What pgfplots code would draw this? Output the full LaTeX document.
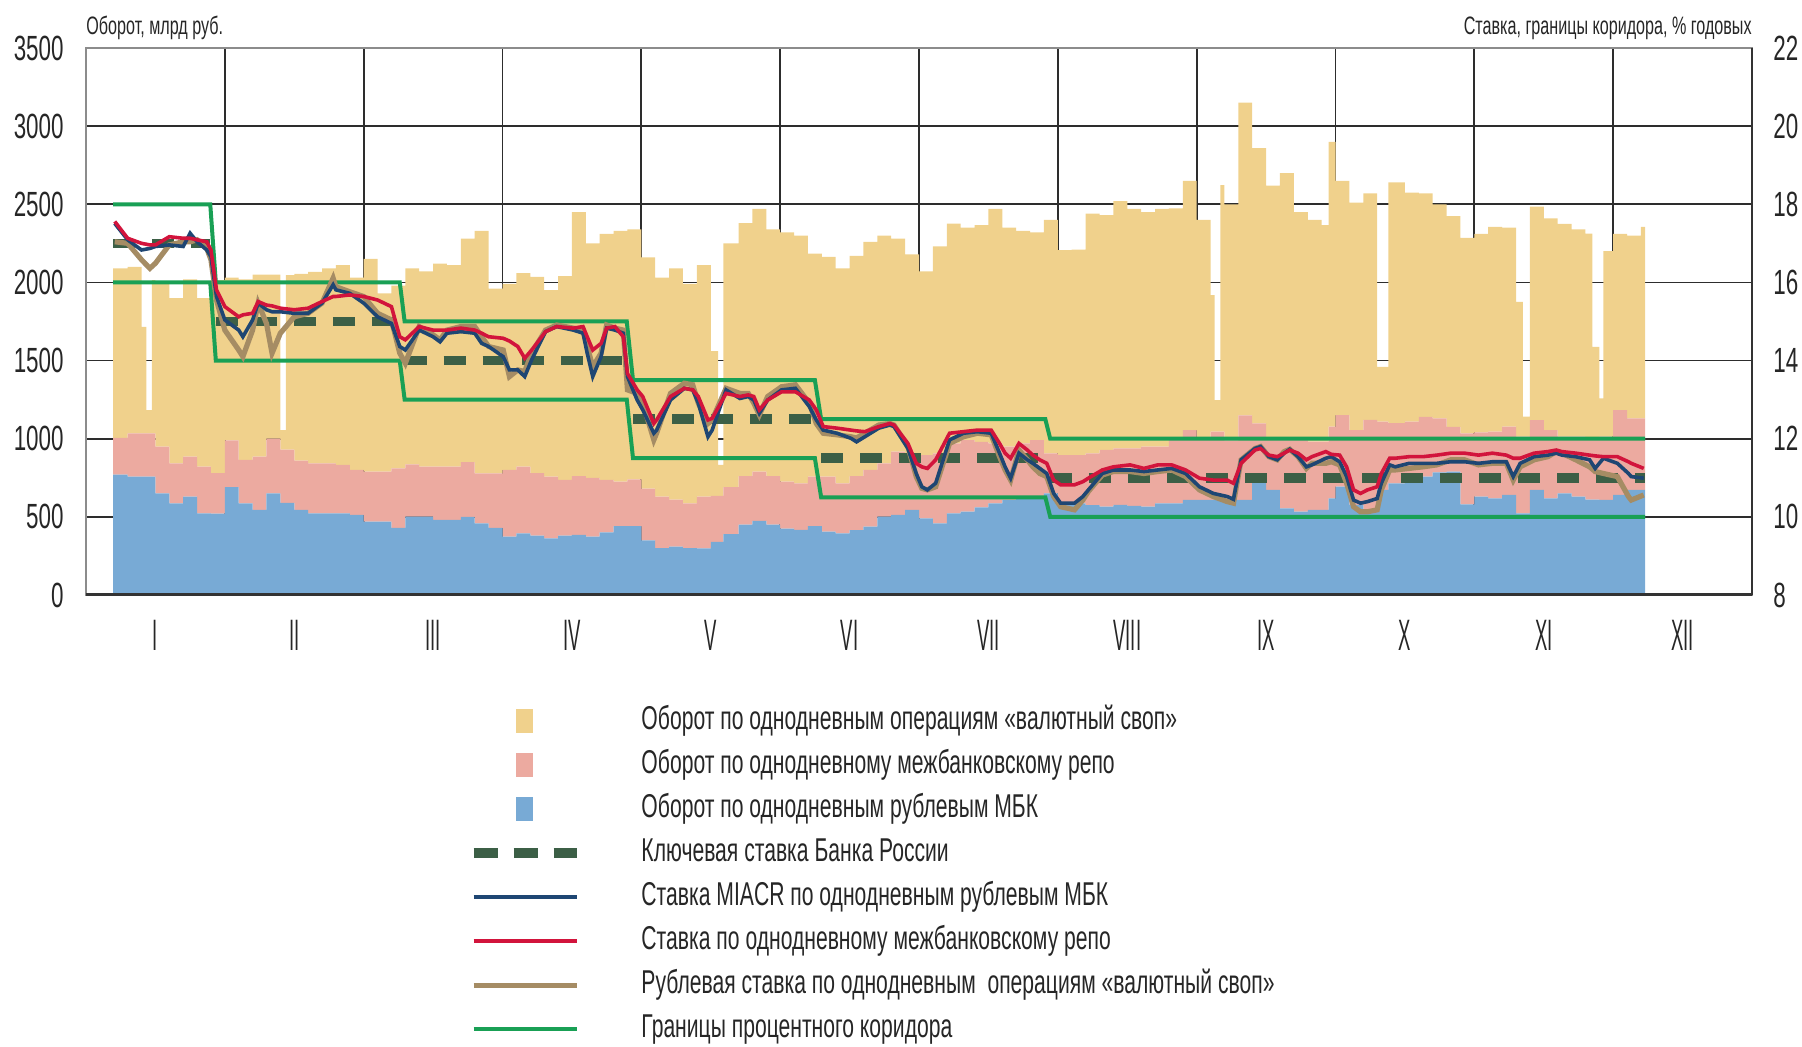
\documentclass[border=0pt]{standalone}
\usepackage{fontspec}
\setmainfont{Liberation Sans}[FakeStretch=0.64]
\newfontfamily\romfont{Liberation Sans}[FakeStretch=0.42]
\usepackage{pgfplots}
\pgfplotsset{compat=1.18}
\usepackage{pgfplotstable}

\definecolor{cswap}{RGB}{240,209,140}
\definecolor{crepo}{RGB}{236,170,160}
\definecolor{cmbk}{RGB}{120,170,213}
\definecolor{ckey}{RGB}{60,95,70}
\definecolor{cmiacr}{RGB}{30,70,115}
\definecolor{crrepo}{RGB}{210,20,60}
\definecolor{crswap}{RGB}{165,140,100}
\definecolor{ccorr}{RGB}{25,160,85}
\definecolor{cgrid}{RGB}{45,45,45}

% daily-ish turnover, bn rub (stacked: MBK, repo, FX swap)
\pgfplotstableread{
x mbk repo swap
0.195 770 235 1085
0.3 757 277 1066
0.4 757 277 682
0.435 757 277 149
0.475 757 277 981
0.5 650 300 1050
0.6 586 256 1058
0.7 629 256 1135
0.8 522 299 1079
0.9 520 260 1235
1.0 690 300 1040
1.1 586 278 1156
1.2 544 341 1165
1.3 650 350 1050
1.4 590 340 125
1.44 590 340 1117
1.5 545 315 1195
1.6 522 320 1226
1.7 522 320 1248
1.8 522 310 1278
1.9 512 288 1230
2.0 469 320 1361
2.1 469 320 1141
2.2 430 380 1170
2.3 501 334 1255
2.4 501 320 1249
2.5 480 341 1299
2.6 480 341 1289
2.7 500 350 1430
2.8 458 320 1552
2.9 430 348 1182
3.0 373 427 1190
3.1 394 427 1239
3.2 380 400 1255
3.3 362 395 1193
3.4 380 356 1304
3.5 385 375 1690
3.6 373 377 1500
3.7 400 336 1574
3.8 440 285 1605
3.9 440 300 1600
4.0 350 330 1480
4.1 300 329 1401
4.2 309 301 1480
4.3 300 286 1404
4.4 299 330 1481
4.5 340 295 925
4.553 340 295 197
4.59 390 300 1560
4.7 450 310 1620
4.8 475 315 1680
4.9 450 310 1580
5.0 425 300 1595
5.1 416 298 1586
5.2 440 317 1428
5.3 405 352 1407
5.4 394 320 1376
5.5 415 345 1410
5.6 437 363 1460
5.7 501 341 1458
5.8 512 405 1363
5.9 544 341 1295
6.0 490 405 1175
6.1 458 448 1324
6.2 522 448 1407
6.3 533 458 1359
6.4 560 420 1387
6.5 586 384 1500
6.6 608 341 1401
6.7 615 355 1360
6.8 618 373 1329
6.9 650 256 1494
7.0 586 309 1312
7.1 586 309 1315
7.2 575 331 1534
7.3 565 363 1503
7.4 576 362 1582
7.5 570 368 1532
7.6 565 384 1501
7.7 586 363 1521
7.8 586 405 1482
7.9 608 447 1595
8.0 608 383 1409
8.1 608 437 874
8.13 608 437 202
8.17 608 437 1578
8.2 608 382 1510
8.3 608 542 2000
8.4 736 362 1762
8.5 672 338 1610
8.6 554 446 1700
8.7 533 458 1459
8.8 544 437 1419
8.9 544 437 1386
8.95 618 459 1823
9.0 693 458 1499
9.1 576 479 1455
9.2 544 576 1450
9.3 672 438 350
9.38 714 386 1540
9.5 736 373 1466
9.6 757 383 1430
9.7 785 345 1370
9.8 789 286 1350
9.9 580 454 1251
10.0 629 411 1270
10.1 618 427 1311
10.2 640 437 1273
10.3 522 491 863
10.35 522 491 128
10.4 672 447 1366
10.5 618 437 1355
10.6 650 363 1362
10.7 629 384 1327
10.8 610 400 1303
10.85 610 400 578
10.9 608 405 245
10.93 608 405 1187
11.0 640 543 1127
11.1 672 458 1170
11.2 672 458 1226
11.23 672 458 1226
}\bars

% rates, % p.a.
\pgfplotstableread{
x miacr repo swap
0.207 17.51 17.56 17.04
0.30 17.09 17.13 17.00
0.40 16.83 17.00 16.58
0.46 16.87 16.96 16.36
0.50 16.92 16.96 16.49
0.60 16.96 17.17 16.96
0.70 16.92 17.13 17.04
0.75 17.26 17.13 17.04
0.80 17.04 17.09 17.09
0.87 16.83 17.04 16.87
0.90 16.66 16.83 16.58
0.94 15.64 15.81 15.55
1.00 15.04 15.38 14.78
1.10 14.78 15.12 14.27
1.13 14.61 15.17 14.10
1.20 15.04 15.21 14.78
1.24 15.47 15.51 15.47
1.30 15.30 15.42 14.95
1.34 15.25 15.40 14.19
1.40 15.25 15.34 14.70
1.50 15.21 15.30 15.12
1.60 15.21 15.34 15.21
1.70 15.47 15.51 15.47
1.78 15.94 15.64 16.11
1.80 15.81 15.64 15.89
1.90 15.72 15.68 15.76
2.00 15.47 15.64 15.64
2.10 15.12 15.55 15.21
2.20 14.95 15.38 15.04
2.26 14.36 14.61 14.19
2.30 14.27 14.53 13.93
2.40 14.78 14.87 14.87
2.50 14.61 14.78 14.66
2.55 14.48 14.78 14.53
2.60 14.70 14.78 14.78
2.70 14.74 14.83 14.87
2.80 14.70 14.78 14.87
2.85 14.44 14.70 14.61
2.90 14.36 14.61 14.36
3.005 14.10 14.57 14.27
3.05 13.76 14.50 13.59
3.11 13.76 14.36 13.76
3.16 13.59 14.06 13.72
3.21 14.02 14.27 14.19
3.31 14.74 14.74 14.78
3.39 14.87 14.87 14.91
3.51 14.78 14.83 14.83
3.58 14.70 14.87 14.78
3.61 14.19 14.61 14.36
3.65 13.59 14.27 13.84
3.71 14.10 14.44 14.19
3.75 14.83 14.83 14.91
3.81 14.78 14.87 14.83
3.87 14.70 14.61 14.78
3.90 13.59 13.67 13.25
3.97 12.99 13.25 13.16
4.01 12.74 13.08 12.91
4.09 12.14 12.39 11.97
4.11 12.22 12.48 12.14
4.21 12.99 13.08 13.16
4.31 13.29 13.29 13.42
4.37 13.25 13.25 13.38
4.41 12.91 13.08 12.91
4.48 12.05 12.48 12.39
4.51 12.22 12.52 12.48
4.61 13.25 13.16 13.29
4.71 13.03 13.08 13.16
4.77 13.08 13.12 13.16
4.81 12.99 13.08 12.91
4.85 12.65 12.74 12.61
4.91 12.99 12.99 13.08
5.01 13.25 13.20 13.33
5.11 13.29 13.20 13.38
5.21 12.82 12.99 12.91
5.26 12.48 12.74 12.39
5.31 12.22 12.31 12.14
5.41 12.14 12.27 12.10
5.51 12.01 12.22 12.05
5.55 11.92 12.20 12.02
5.61 12.05 12.18 12.14
5.71 12.27 12.31 12.35
5.79 12.35 12.39 12.39
5.82 12.31 12.35 12.35
5.92 11.75 11.88 11.80
5.98 11.11 11.37 11.03
6.02 10.77 11.28 10.73
6.06 10.69 11.24 10.69
6.12 10.86 11.46 10.77
6.22 11.97 12.14 11.88
6.32 12.14 12.18 12.05
6.42 12.18 12.22 12.14
6.52 12.14 12.22 12.10
6.58 11.63 11.88 11.54
6.62 11.28 11.63 11.20
6.66 10.99 11.50 10.94
6.72 11.63 11.88 11.71
6.78 11.46 11.71 11.46
6.82 11.37 11.58 11.28
6.87 11.24 11.46 11.11
6.92 11.11 11.37 11.03
6.97 10.60 10.94 10.52
7.02 10.35 10.82 10.26
7.12 10.35 10.82 10.18
7.18 10.52 10.90 10.43
7.22 10.69 10.99 10.65
7.32 11.11 11.20 11.07
7.40 11.20 11.28 11.16
7.52 11.20 11.33 11.16
7.62 11.16 11.24 11.11
7.72 11.20 11.33 11.16
7.82 11.24 11.33 11.20
7.92 11.11 11.20 11.03
8.02 10.77 10.99 10.69
8.12 10.60 10.94 10.52
8.22 10.52 10.94 10.39
8.265 10.45 10.86 10.35
8.32 11.46 11.37 11.46
8.42 11.75 11.71 11.75
8.46 11.80 11.75 11.80
8.52 11.54 11.58 11.54
8.58 11.46 11.54 11.46
8.63 11.63 11.63 11.67
8.67 11.73 11.71 11.73
8.73 11.54 11.63 11.54
8.79 11.28 11.46 11.24
8.83 11.33 11.54 11.37
8.93 11.50 11.67 11.37
8.97 11.54 11.60 11.41
9.03 11.41 11.58 11.33
9.08 11.03 11.28 10.86
9.13 10.43 10.69 10.26
9.18 10.35 10.60 10.13
9.23 10.39 10.69 10.13
9.30 10.47 10.77 10.18
9.33 10.86 11.11 10.69
9.39 11.33 11.50 11.20
9.43 11.28 11.50 11.20
9.53 11.37 11.54 11.24
9.63 11.37 11.54 11.28
9.73 11.37 11.58 11.33
9.83 11.41 11.63 11.46
9.93 11.41 11.63 11.46
10.03 11.37 11.58 11.33
10.13 11.41 11.63 11.37
10.23 11.41 11.58 11.37
10.28 11.03 11.50 10.94
10.33 11.37 11.50 11.28
10.43 11.54 11.63 11.46
10.53 11.58 11.67 11.54
10.59 11.63 11.71 11.67
10.63 11.58 11.67 11.63
10.73 11.54 11.63 11.46
10.83 11.46 11.58 11.28
10.87 11.24 11.56 11.16
10.93 11.50 11.54 11.11
11.03 11.37 11.54 11.03
11.11 11.11 11.41 10.52
11.13 11.03 11.37 10.43
11.22 10.99 11.24 10.56
}\rates

% interest rate corridor
\pgfplotstableread{
x up lo
0.195 18 16
0.895 18 16
0.935 16 14
2.26 16 14
2.295 15 13
3.895 15 13
3.94 13.5 11.5
5.25 13.5 11.5
5.295 12.5 10.5
6.91 12.5 10.5
6.945 12 10
11.23 12 10
}\corr

% key rate
\pgfplotstableread{
x key
0.195 17
0.895 17
0.915 nan
0.935 15
2.26 15
2.28 nan
2.295 14
3.895 14
3.92 nan
3.94 12.5
5.25 12.5
5.27 nan
5.295 11.5
6.91 11.5
6.93 nan
6.945 11
11.23 11
}\keyrate

\pgfplotsset{
  legsq/.style={legend image code/.code={%
    \path[draw=none, fill=none] (0pt,-9pt) rectangle (83.9pt,9pt);
    \fill[##1] (21pt,-6pt) rectangle (29.5pt,6pt);}},
  legln/.style={legend image code/.code={%
    \path[draw=none, fill=none] (0pt,-9pt) rectangle (83.9pt,9pt);
    \draw[##1] (0pt,0pt) -- (51.5pt,0pt);}},
  common/.style={
    scale only axis, width=833pt, height=273.5pt,
    xmin=0, xmax=12,
    /pgf/number format/assume math mode=true,
    /pgf/number format/1000 sep={},
    major tick length=0pt, minor tick length=0pt,
    tick label style={font=\fontsize{17.5}{17.5}\selectfont, text=black!85},
  },
}

\begin{document}
\begin{tikzpicture}
\path[use as bounding box] (-43pt,-226pt) rectangle (858pt,297.5pt);

\begin{axis}[common,
  clip mode=individual,
  ymin=0, ymax=3500, ytick={0,500,...,3500},
  ytick pos=left,
  yticklabel style={anchor=east, inner sep=0pt, xshift=-11pt},
  xtick={0.5,1.5,...,11.5},
  xticklabels={I,II,III,IV,V,VI,VII,VIII,IX,X,XI,XII},
  xticklabel style={font=\romfont\fontsize{22}{22}\selectfont, inner sep=0pt, anchor=north, yshift=-12.5pt, text=black!85},
  minor xtick={1,2,...,11},
  xminorgrids=true, ymajorgrids=true, xmajorgrids=false,
  minor grid style={draw=cgrid, line width=0.9pt},
  major grid style={draw=cgrid, line width=0.9pt},
  axis line style={draw=black!45, line width=1.2pt},
  stack plots=y,
]
\addplot[draw=none, fill=cmbk, const plot] table[x=x, y=mbk]{\bars} \closedcycle;
\addplot[draw=none, fill=crepo, const plot] table[x=x, y=repo]{\bars} \closedcycle;
\addplot[draw=none, fill=cswap, const plot] table[x=x, y=swap]{\bars} \closedcycle;
\node[anchor=base west, inner sep=0pt, font=\fontsize{12.6}{12.6}\selectfont, text=black!85, yshift=6.5pt]
  at (axis description cs:0,1) {Оборот, млрд руб.};
\node[anchor=base east, inner sep=0pt, font=\fontsize{12.6}{12.6}\selectfont, text=black!85, yshift=6.5pt]
  at (axis description cs:1,1) {Ставка, границы коридора, \% годовых};
\end{axis}

\begin{axis}[common,
  ymin=8, ymax=22, ytick={8,10,...,22},
  axis x line*=bottom, axis y line*=right,
  yticklabel style={anchor=west, inner sep=0pt, xshift=10.5pt},
  xtick=\empty,
  axis line style={draw=black!80, line width=1.1pt, -},
  x axis line style={line width=1.5pt},
  legend style={at={(0.2297,-0.1975)}, anchor=north west, draw=none, fill=none,
    inner sep=0pt, outer sep=0pt, row sep=4pt, column sep=0pt,
    font=\fontsize{16.5}{16.5}\selectfont, text=black!85,
    nodes={inner sep=0pt, text height=12pt, text depth=3.5pt},
    cells={anchor=west}},
  legend cell align=left,
]
\addplot[ccorr, line width=2pt, forget plot] table[x=x, y=up]{\corr};
\addplot[ccorr, line width=2pt, forget plot] table[x=x, y=lo]{\corr};
\addplot[ckey, line width=4.8pt, dash pattern=on 11pt off 8.5pt, line cap=butt, unbounded coords=jump, forget plot] table[x=x, y=key]{\keyrate};
\addplot[crswap, line width=2.6pt, forget plot] table[x=x, y=swap]{\rates};
\addplot[cmiacr, line width=1.8pt, forget plot] table[x=x, y=miacr]{\rates};
\addplot[crrepo, line width=1.8pt, forget plot] table[x=x, y=repo]{\rates};

\addlegendimage{legsq, fill=cswap, draw=none}
\addlegendentry{Оборот по однодневным операциям «валютный своп»}
\addlegendimage{legsq, fill=crepo, draw=none}
\addlegendentry{Оборот по однодневному межбанковскому репо}
\addlegendimage{legsq, fill=cmbk, draw=none}
\addlegendentry{Оборот по однодневным рублевым МБК}
\addlegendimage{legln, draw=ckey, line width=5pt, dash pattern=on 12pt off 8pt}
\addlegendentry{Ключевая ставка Банка России}
\addlegendimage{legln, draw=cmiacr, line width=2pt}
\addlegendentry{Ставка MIACR по однодневным рублевым МБК}
\addlegendimage{legln, draw=crrepo, line width=2pt}
\addlegendentry{Ставка по однодневному межбанковскому репо}
\addlegendimage{legln, draw=crswap, line width=2.5pt}
\addlegendentry{Рублевая ставка по однодневным\ \ операциям «валютный своп»}
\addlegendimage{legln, draw=ccorr, line width=2pt}
\addlegendentry{Границы процентного коридора}
\end{axis}
\end{tikzpicture}
\end{document}
